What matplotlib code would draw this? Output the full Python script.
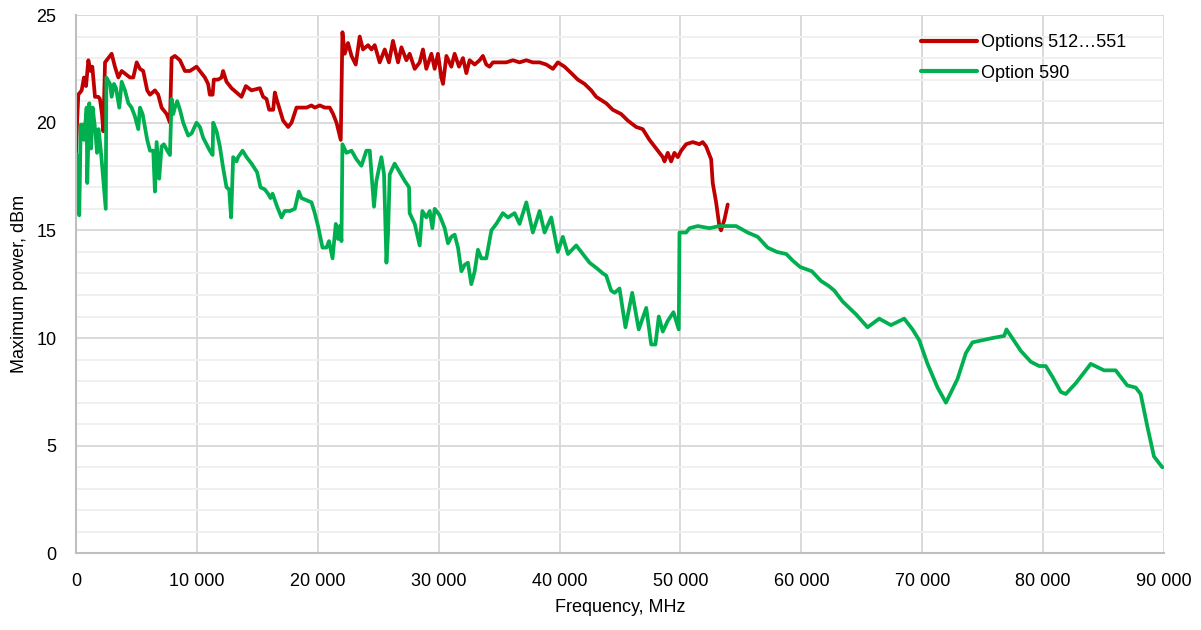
import matplotlib
matplotlib.use("Agg")
import matplotlib.pyplot as plt
from matplotlib.ticker import MultipleLocator, FuncFormatter
from matplotlib import font_manager

# ---------------- data ----------------
red_label = "Options 512\u2026551"
green_label = "Option 590"

red_freq = [0, 80, 190, 470, 660, 830, 1020, 1210, 1350, 1570, 1840, 1980, 2150, 2260,
            2400, 2810, 2950, 3220, 3500, 3780, 4460, 4740, 5020, 5290, 5560, 5890,
            6120, 6530, 6800, 7080, 7500, 7770, 7910, 8180, 8600, 9010, 9420, 9970,
            10250, 10660, 10930, 11070, 11300, 11400, 11760, 12040, 12170, 12450,
            12870, 13280, 13690, 14050, 14520, 15210, 15480, 15760, 15980, 16310,
            16450, 16590, 16860, 17130, 17550, 17830, 18240, 18650, 19070, 19480,
            19750, 20170, 20580, 20990, 21270, 21550, 21900, 22040, 22230, 22500,
            22790, 23140, 23470, 23740, 24160, 24440, 24710, 25120, 25540, 25890,
            26220, 26640, 26920, 27330, 27600, 28020, 28430, 28700, 28980, 29400,
            29670, 29940, 30220, 30360, 30640, 31050, 31320, 31680, 32010, 32290,
            32560, 32980, 33390, 33660, 33940, 34210, 34490, 35040, 35590, 36140,
            36690, 37250, 37790, 38350, 38900, 39450, 39860, 40410, 40970, 41510,
            42070, 42620, 43030, 43310, 43860, 44400, 45100, 45640, 46340, 46880,
            47440, 47990, 48540, 48680, 48950, 49230, 49500, 49780, 50060, 50470,
            51020, 51570, 51840, 52120, 52400, 52540, 52670, 52950, 53220, 53360,
            53640, 53910]
red_power = [18.6, 19.9, 21.3, 21.5, 22.1, 21.7, 22.9, 22.4, 22.6, 21.2, 21.2, 21.1, 20.4, 19.6,
             22.8, 23.1, 23.2, 22.6, 22.1, 22.4, 22.1, 22.1, 22.8, 22.5, 22.4, 21.5,
             21.3, 21.5, 21.3, 20.7, 20.4, 20.0, 23.0, 23.1, 22.9, 22.4, 22.4, 22.6,
             22.4, 22.1, 21.8, 21.3, 21.3, 22.0, 22.0, 22.1, 22.4, 21.9,
             21.6, 21.4, 21.2, 21.7, 21.5, 21.6, 21.2, 21.1, 20.6, 20.6,
             21.4, 21.1, 20.6, 20.1, 19.8, 20.0, 20.7, 20.7, 20.7, 20.8,
             20.7, 20.8, 20.7, 20.7, 20.4, 20.0, 19.2, 24.2, 23.2, 23.7,
             23.1, 22.7, 24.0, 23.4, 23.6, 23.4, 23.6, 22.8, 23.4, 22.8,
             23.8, 22.8, 23.5, 22.9, 23.2, 22.5, 22.8, 23.4, 22.5, 23.2,
             22.5, 23.2, 22.1, 21.8, 23.1, 22.6, 23.2, 22.6, 23.0, 22.3,
             22.9, 22.7, 22.9, 23.1, 22.7, 22.6, 22.8, 22.8, 22.8, 22.9,
             22.8, 22.9, 22.8, 22.8, 22.7, 22.5, 22.8, 22.6, 22.3, 22.0,
             21.8, 21.5, 21.2, 21.1, 20.9, 20.6, 20.4, 20.1, 19.8, 19.7,
             19.2, 18.8, 18.4, 18.2, 18.6, 18.2, 18.6, 18.4, 18.7, 19.0,
             19.1, 19.0, 19.1, 18.9, 18.5, 18.3, 17.2, 16.3, 15.2, 15.0,
             15.5, 16.2]

green_freq = [0, 60, 140, 270, 390, 550, 660, 880, 930, 1100, 1240, 1380, 1600, 1740,
              1870, 2070, 2460, 2510, 2810, 2950, 3140, 3310, 3580, 3780, 4050, 4330,
              4600, 4870, 5150, 5290, 5510, 5700, 5890, 6120, 6390, 6530, 6670, 6880,
              7080, 7270, 7550, 7770, 7910, 8040, 8180, 8370, 8600, 8870, 9280, 9560,
              9970, 10250, 10520, 10800, 11070, 11300, 11350, 11630, 11900, 12170,
              12450, 12670, 12830, 13000, 13280, 13410, 13780, 14110, 14520, 14980,
              15260, 15620, 15890, 16090, 16260, 16450, 16640, 17000, 17270, 17690,
              18100, 18430, 18650, 19070, 19480, 19750, 20020, 20390, 20720, 20930,
              21220, 21490, 21680, 21820, 21960, 22040, 22370, 22790, 23200, 23610,
              24020, 24300, 24650, 24850, 25260, 25480, 25680, 25810, 25950, 26360,
              26780, 27190, 27550, 27600, 28020, 28430, 28650, 28980, 29260, 29480,
              29670, 30080, 30500, 30770, 31050, 31320, 31600, 31880, 32150, 32420,
              32700, 32980, 33250, 33530, 33940, 34360, 34770, 35310, 35730, 36280,
              36690, 37250, 37790, 38350, 38760, 39310, 39860, 40270, 40690, 41380,
              42070, 42480, 43170, 43580, 43860, 44270, 44550, 44960, 45450, 46010,
              46550, 47170, 47580, 47930, 48210, 48540, 48950, 49420, 49860, 49920,
              50470, 50750, 51430, 52400, 53220, 54600, 55560, 56390, 57210, 57970,
              58760, 59280, 59900, 60870, 61630, 62310, 62730, 63410, 64520, 65480,
              66440, 67410, 68510, 69200, 69750, 70440, 71270, 71960, 72920, 73610,
              74160, 74990, 75810, 76780, 76970, 77330, 78160, 78980, 79670, 80220,
              80770, 81460, 81870, 82700, 83940, 85040, 86000, 86960, 87660, 88070,
              88620, 89170, 89860]
green_power = [16.2, 18.5, 16.2, 15.7, 19.9, 19.9, 19.2, 20.7, 17.2, 20.9, 18.8, 20.7, 19.6, 18.6,
               19.7, 18.6, 16.0, 22.1, 21.8, 21.2, 21.8, 21.6, 20.7, 21.9, 21.5, 20.9,
               20.7, 20.3, 19.7, 20.7, 20.4, 19.8, 19.2, 18.7, 18.7, 16.8, 19.1, 17.4,
               18.9, 19.0, 18.7, 18.5, 21.1, 20.4, 20.7, 21.0, 20.6, 20.0, 19.4, 19.5,
               20.0, 19.8, 19.3, 19.0, 18.7, 18.5, 20.0, 19.6, 18.9, 17.9,
               17.0, 16.9, 15.6, 18.4, 18.2, 18.4, 18.7, 18.4, 18.1, 17.7,
               17.0, 16.9, 16.7, 16.5, 16.7, 16.4, 16.1, 15.6, 15.9, 15.9,
               16.0, 16.8, 16.5, 16.4, 16.3, 15.8, 15.2, 14.2, 14.2, 14.5,
               13.7, 15.3, 14.6, 15.2, 14.5, 19.0, 18.6, 18.7, 18.3, 18.0,
               18.7, 18.7, 16.1, 17.3, 18.4, 17.6, 13.5, 14.8, 17.6, 18.1,
               17.7, 17.3, 17.0, 15.8, 15.3, 14.3, 15.9, 15.6, 15.9, 15.1,
               16.0, 15.7, 15.1, 14.4, 14.7, 14.8, 14.2, 13.1, 13.4, 13.5,
               12.5, 13.1, 14.1, 13.7, 13.7, 15.0, 15.3, 15.8, 15.6, 15.8,
               15.3, 16.3, 14.9, 15.9, 14.9, 15.6, 14.0, 14.7, 13.9, 14.3,
               13.8, 13.5, 13.2, 13.0, 12.9, 12.2, 12.1, 12.3, 10.5, 12.1,
               10.4, 11.4, 9.7, 9.7, 11.0, 10.3, 10.8, 11.2, 10.4, 14.9,
               14.9, 15.1, 15.2, 15.1, 15.2, 15.2, 14.9, 14.7, 14.2, 14.0,
               13.9, 13.6, 13.3, 13.1, 12.65, 12.4, 12.2, 11.7, 11.1, 10.5,
               10.9, 10.6, 10.9, 10.4, 9.9, 8.8, 7.7, 7.0, 8.1, 9.3,
               9.8, 9.9, 10.0, 10.1, 10.4, 10.1, 9.4, 8.9, 8.7, 8.7,
               8.2, 7.5, 7.4, 7.9, 8.8, 8.5, 8.5, 7.8, 7.7, 7.4,
               5.9, 4.5, 4.0]

x_label = "Frequency, MHz"
y_label = "Maximum power, dBm"

# ---------------- style ----------------
names = {f.name for f in font_manager.fontManager.ttflist}
fam = ["Liberation Sans Narrow", "Liberation Sans", "DejaVu Sans"]
fam = [f for f in fam if f in names] or ["DejaVu Sans"]
plt.rcParams["font.family"] = fam
fs = 15 if fam[0] == "Liberation Sans Narrow" else 13

W, H = 1201, 630
fig = plt.figure(figsize=(W / 100, H / 100), dpi=100)
x0, x1, ytop, ybot = 76, 1164, 15, 553.4
ax = fig.add_axes([x0 / W, 1 - ybot / H, (x1 - x0) / W, (ybot - ytop) / H])

ax.plot(red_freq, red_power, color="#C00000", lw=2.7, label=red_label,
        solid_joinstyle="round", solid_capstyle="round")
ax.plot(green_freq, green_power, color="#00B050", lw=2.7, label=green_label,
        solid_joinstyle="round", solid_capstyle="round")

ax.set_xlim(0, 90000)
ax.set_ylim(0, 25)
ax.xaxis.set_major_locator(MultipleLocator(10000))
ax.yaxis.set_major_locator(MultipleLocator(5))
ax.yaxis.set_minor_locator(MultipleLocator(1))
ax.xaxis.set_major_formatter(FuncFormatter(lambda v, p: f"{int(v):,}".replace(",", " ")))

ax.grid(which="major", axis="both", color="#D9D9D9", lw=1.4)
ax.grid(which="minor", axis="y", color="#F0F0F0", lw=1.4)
ax.set_axisbelow(True)
for s in ["top", "right"]:
    ax.spines[s].set_visible(False)
for s in ["left", "bottom"]:
    ax.spines[s].set_color("#BFBFBF")
    ax.spines[s].set_linewidth(1.5)
ax.tick_params(which="both", length=0)
ax.tick_params(axis="x", labelsize=fs, pad=14)
ax.tick_params(axis="y", labelsize=fs, pad=14)

fig.text(620 / W, 1 - 608 / H, x_label, ha="center", va="center", fontsize=fs)
fig.text(19 / W, 1 - 284 / H, y_label, ha="center", va="center", rotation=90, fontsize=fs)

leg = ax.legend(loc="upper left", bbox_to_anchor=(921 / W, 1 - 34 / H),
                bbox_transform=fig.transFigure, frameon=False, fontsize=fs,
                handlelength=3.1, handletextpad=0.25, borderpad=0, borderaxespad=0,
                labelspacing=0.75)
for l in leg.get_lines():
    l.set_linewidth(3)

fig.savefig("out.png", dpi=100)
